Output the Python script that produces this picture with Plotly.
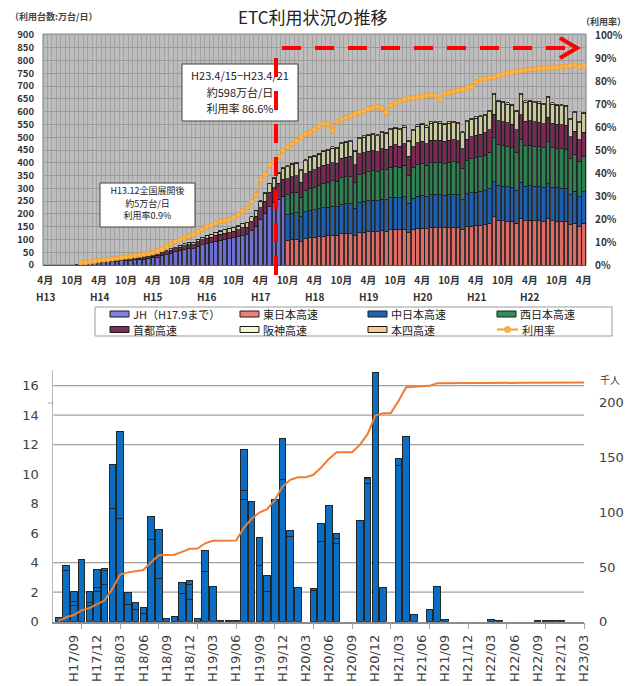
import plotly.graph_objects as go

W, H = 627, 686
JP = "Noto Sans CJK JP"
LAT = "DejaVu Sans"

# ---------------- ETC usage, monthly from H13/4 (index 0) to H23/4 (index 120) ----------------
TOP_MONTH_TEXT = ["4月", "10月"] * 10 + ["4月"]
TOP_YEAR_TEXT = ["H13", "H14", "H15", "H16", "H17", "H18", "H19", "H20", "H21", "H22"]

# 万台/日 ; JH until H17/9 (index 0..53)
JH = [0, 0, 0, 0, 0, 0, 0, 1, 4, 5, 6, 8, 10, 11, 12, 13, 14, 16, 17, 19,
      20, 21, 23, 26, 28, 31, 36, 41, 46, 51, 56, 61, 63, 64, 73, 79, 83, 87, 93, 96,
      99, 102, 106, 110, 117, 118, 135, 152, 179, 200, 227, 243, 257, 270]

# NEXCO companies from H17/10 (index 54..120)
EAST = [97, 99, 100, 92, 103, 106, 108, 110, 113, 114, 117, 116, 122, 123, 124, 114, 127, 129, 131, 132,
        130, 134, 133, 137, 139, 137, 140, 126, 137, 142, 144, 141, 145, 146, 146, 145, 146, 147, 146, 137,
        149, 152, 154, 156, 158, 163, 188, 176, 174, 172, 170, 163, 183, 174, 175, 174, 173, 172, 181, 173,
        172, 171, 171, 157, 164, 150, 164]
CENTRAL = [100, 103, 104, 96, 106, 108, 109, 110, 112, 112, 113, 112, 116, 117, 117, 108, 119, 120, 121, 122,
           121, 123, 123, 126, 127, 126, 128, 115, 124, 128, 129, 127, 130, 130, 129, 128, 129, 129, 128, 119,
           129, 131, 131, 132, 133, 135, 137, 136, 135, 134, 133, 128, 141, 135, 135, 134, 133, 132, 137, 132,
           131, 130, 129, 118, 124, 118, 122]
WEST = [78, 80, 81, 75, 83, 86, 88, 91, 94, 96, 99, 99, 104, 106, 107, 99, 110, 111, 113, 114,
        113, 116, 116, 119, 120, 119, 122, 109, 119, 123, 125, 123, 127, 127, 127, 126, 128, 128, 128, 120,
        130, 133, 135, 137, 138, 143, 172, 158, 157, 156, 155, 149, 166, 158, 159, 157, 157, 155, 164, 156,
        154, 154, 153, 140, 146, 138, 137]

# whole period (index 0..120)
SHUTO = [0, 0, 0, 0, 0, 0, 0, 0, 1, 1, 2, 2, 3, 3, 3, 4, 4, 4, 5, 5,
         5, 5, 6, 6, 7, 8, 9, 10, 12, 13, 14, 15, 16, 16, 18, 19, 21, 22, 23, 24,
         25, 25, 26, 27, 29, 30, 34, 38, 45, 50, 57, 60, 63, 66,
         62, 64, 64, 60, 65, 67, 68, 69, 71, 71, 72, 72, 75, 76, 77, 71, 79, 79, 80, 80,
         79, 81, 80, 83, 84, 83, 84, 76, 82, 85, 86, 84, 86, 86, 86, 85, 85, 86, 85, 79,
         85, 86, 87, 87, 88, 89, 92, 95, 94, 94, 93, 90, 98, 95, 96, 95, 95, 94, 96, 94,
         94, 94, 93, 86, 90, 85, 97]
HANSHIN = [0, 0, 0, 0, 0, 0, 0, 0, 0, 1, 1, 1, 1, 1, 2, 2, 2, 2, 2, 2,
           3, 3, 3, 3, 3, 4, 4, 5, 6, 6, 7, 7, 8, 8, 9, 10, 11, 11, 12, 13,
           13, 14, 14, 15, 16, 17, 19, 22, 26, 30, 34, 37, 40, 42,
           47, 49, 49, 45, 50, 52, 53, 54, 55, 55, 56, 56, 58, 58, 58, 53, 60, 61, 62, 62,
           62, 63, 63, 65, 65, 65, 66, 59, 63, 65, 66, 65, 67, 67, 67, 66, 67, 67, 66, 62,
           67, 68, 68, 68, 68, 70, 77, 75, 75, 74, 74, 71, 78, 75, 75, 75, 75, 74, 77, 75,
           74, 74, 74, 68, 71, 66, 73]
HONSHI = [0] * 30 + [1] * 18 + [2] * 6 + [4] * 8 + [5] * 19 + [4] + [5] * 18 + [6] + [5] * 5 + [6] \
    + [5] * 5 + [6] + [5] * 6 + [4, 5]

# 利用率 (%) from H13/12 (index 8..120)
RATE = [0.9, 1.1, 1.3, 1.6, 2.0, 2.2, 2.4, 2.7, 2.9, 3.2, 3.5, 3.7, 4.0, 4.4, 4.7, 5.0, 5.4, 6.2, 7.0, 8.0,
        9.2, 10.2, 11.0, 11.8, 12.6, 13.3, 14.5, 15.5, 16.4, 17.3, 18.2, 19.0, 19.4, 19.8, 20.6, 21.8, 23.4,
        25.0, 27.6, 30.5, 37.0, 39.5, 43.5, 44.8, 47.0, 49.8, 51.3, 52.6, 54.0, 55.6, 56.8, 57.6, 58.8, 60.2,
        61.5, 61.2, 58.5, 62.3, 63.3, 64.0, 64.8, 65.6, 66.3, 66.8, 67.8, 68.4, 68.8, 68.2, 66.2, 69.3, 70.5,
        71.2, 71.9, 72.5, 72.7, 73.0, 73.3, 73.6, 74.0, 73.5, 71.8, 74.6, 75.0, 75.4, 75.9, 76.4, 77.0, 77.5,
        79.6, 80.6, 81.1, 81.4, 81.5, 82.4, 83.0, 83.4, 83.8, 84.1, 84.4, 84.8, 85.0, 85.2, 85.5, 85.6, 85.6,
        85.8, 86.0, 86.2, 86.4, 86.6, 87.0, 86.2, 86.6]

JH_START, NEXCO_START, RATE_START, N_MONTHS = 0, 54, 8, 121

# name, values, first month index, bar colour, legend swatch colour
TOP_SERIES = [
    ("JH（H17.9まで）", JH, JH_START, "#6E6ED0", "#8080E2"),
    ("東日本高速", EAST, NEXCO_START, "#DC6C65", "#F0807A"),
    ("中日本高速", CENTRAL, NEXCO_START, "#1E5FAF", "#1E63BA"),
    ("西日本高速", WEST, NEXCO_START, "#2F8050", "#34905A"),
    ("首都高速", SHUTO, 0, "#7B2A55", "#7E2C58"),
    ("阪神高速", HANSHIN, 0, "#CBCB9F", "#F6F6C8"),
    ("本四高速", HONSHI, 0, "#F2C68A", "#F8CC8E"),
]
RATE_NAME, RATE_COLOR = "利用率", "#F5A031"

# call-out texts: one entry per line
LATEST_NOTE = ["H23.4/15−H23.4/21", "約598万台/日", "利用率 86.6%"]
START_NOTE = ["H13.12全国展開後", "約5万台/日", "利用率0.9%"]

# ---------------- lower chart: monthly H17/07 (0) .. H23/03 (68) ----------------
BOTTOM_TICK_TEXT = ["H17/09", "H17/12", "H18/03", "H18/06", "H18/09", "H18/12", "H19/03", "H19/06",
                    "H19/09", "H19/12", "H20/03", "H20/06", "H20/09", "H20/12", "H21/03", "H21/06",
                    "H21/09", "H21/12", "H22/03", "H22/06", "H22/09", "H22/12", "H23/03"]
BOTTOM_TICK_POS = list(range(2, 69, 3))

SEG_A = [0.27, 3.5, 1.13, 4.23, 1.1, 2.08, 2.49, 7.69, 6.98, 1.18,
         0.84, 0.57, 5.54, 2.94, 0.23, 0.32, 1.88, 1.52, 0.23, 3.37,
         2.37, 0.05, 0.05, 0.05, 8.25, 8.14, 3.84, 2.08, 8.3, 9.61,
         5.76, 2.33, 0, 2.09, 5.42, 7.86, 5.27, 0, 0, 6.83,
         9.34, 16.9, 2.31, 0, 10.62, 12.54, 0.5, 0, 0.8, 2.42,
         0.16, 0, 0, 0, 0, 0, 0.17, 0.05, 0, 0,
         0, 0, 0.05, 0.05, 0.05, 0.05, 0, 0, 0]
SEG_B = [0, 0.3, 0.23, 0, 0.2, 0.25, 0.95, 2.98, 5.9, 0.81,
         0.43, 0.38, 1.58, 3.28, 0, 0, 0.79, 1.03, 0, 1.45,
         0, 0, 0, 0, 0.63, 0, 1.86, 1.02, 0, 2.78,
         0.39, 0, 0, 0.17, 1.25, 0, 0.38, 0, 0, 0,
         0.38, 0, 0, 0, 0.46, 0, 0, 0, 0, 0,
         0, 0, 0, 0, 0, 0, 0, 0, 0, 0,
         0, 0, 0, 0, 0, 0, 0, 0, 0]
SEG_C = [0, 0, 0.67, 0, 0.73, 1.22, 0.18, 0, 0, 0,
         0, 0, 0, 0, 0, 0, 0, 0.21, 0, 0,
         0, 0, 0, 0, 2.81, 0, 0, 0, 0, 0,
         0, 0, 0, 0, 0, 0, 0.34, 0, 0, 0,
         0.07, 0, 0, 0, 0, 0, 0, 0, 0, 0,
         0, 0, 0, 0, 0, 0, 0, 0, 0, 0,
         0, 0, 0, 0, 0, 0, 0, 0, 0]
CUMULATIVE = [0.27, 4.07, 6.10, 10.33, 12.36, 15.91, 19.53, 30.20, 43.08, 45.07,
              46.34, 47.29, 54.41, 60.63, 60.86, 61.18, 63.85, 66.61, 66.84, 71.66,
              74.03, 74.08, 74.13, 74.18, 85.87, 94.01, 99.71, 102.81, 111.11, 123.50,
              129.65, 131.98, 131.98, 134.24, 140.91, 148.77, 154.76, 154.76, 154.76, 161.59,
              171.38, 188.28, 190.59, 190.59, 201.67, 214.21, 214.71, 214.71, 215.51, 217.93,
              218.09, 218.09, 218.09, 218.09, 218.09, 218.09, 218.26, 218.31, 218.31, 218.31,
              218.31, 218.31, 218.36, 218.41, 218.46, 218.51, 218.51, 218.51, 218.51]
BOTTOM_GRID = [2, 4, 12, 14, 16]
BAR_BLUE, LINE_ORANGE = "#0A6FC2", "#ED7D31"


def pxx(p):
    return p / W


def pxy(p):
    return 1 - p / H


def nz(values):
    return [v if v else None for v in values]


# plot rectangles in pixels
TL, TR, TT, TB = 43, 586, 35, 265
BL, BR, BT, BB = 53.3, 584, 370, 621.7
TOP_YMAX, BOT_YMAX, BOT_Y2MAX = 900, 17.06, 230


def top_x(p):
    return (p - TL) / (TR - TL) * N_MONTHS - 0.5


def top_y(p):
    return (TB - p) / (TB - TT) * TOP_YMAX


fig = go.Figure()

for name, vals, start, color, _ in TOP_SERIES:
    fig.add_trace(go.Bar(
        x=list(range(start, start + len(vals))), y=nz(vals), name=name, width=0.8,
        marker=dict(color=color, line=dict(color="#1a1a1a", width=0.8)),
        xaxis="x", yaxis="y", showlegend=False))

fig.add_trace(go.Scatter(
    x=list(range(RATE_START, RATE_START + len(RATE))), y=RATE, name=RATE_NAME,
    mode="lines+markers", line=dict(color=RATE_COLOR, width=1.5),
    marker=dict(size=5, color="#F8B64C", line=dict(color="#F0961C", width=0.6)),
    xaxis="x", yaxis="y2", showlegend=False))

# call-out texts (drawn as traces so the red guide can sit over them)
for lines, cx, ys, size in [(LATEST_NOTE, 240, [77.5, 94, 110.5], 11),
                            (START_NOTE, 147.5, [192, 204.5, 217], 9)]:
    fig.add_trace(go.Scatter(
        x=[top_x(cx)] * len(lines), y=[top_y(v) for v in ys], mode="text", text=lines,
        textposition="middle center", cliponaxis=False,
        textfont=dict(family=JP, size=size, color="#222222"),
        xaxis="x", yaxis="y", showlegend=False, hoverinfo="skip"))

for seg in (SEG_A, SEG_B, SEG_C):
    fig.add_trace(go.Bar(
        x=list(range(len(seg))), y=nz(seg), width=0.84,
        marker=dict(color=BAR_BLUE, line=dict(color="#262626", width=1)),
        xaxis="x2", yaxis="y3", showlegend=False))

fig.add_trace(go.Scatter(
    x=list(range(len(CUMULATIVE))), y=CUMULATIVE, mode="lines",
    line=dict(color=LINE_ORANGE, width=2), xaxis="x2", yaxis="y4", showlegend=False))

top_font = dict(family=JP, size=10, color="#333333", weight="bold")
bot_font = dict(family=LAT, size=13, color="#404040")

fig.update_layout(
    width=W, height=H, margin=dict(l=0, r=0, t=0, b=0, autoexpand=False),
    paper_bgcolor="white", plot_bgcolor="white",
    barmode="stack", showlegend=False, hovermode=False,
    xaxis=dict(domain=[pxx(TL), pxx(TR)], range=[-0.5, N_MONTHS - 0.5], anchor="y",
               automargin=False,
               tickmode="array", tickvals=list(range(0, N_MONTHS, 6)), ticktext=TOP_MONTH_TEXT,
               ticks="", showgrid=False, zeroline=False,
               minor=dict(tickmode="linear", tick0=0.5, dtick=1, showgrid=True,
                          gridcolor="#A3A3A3", gridwidth=1),
               showline=True, linecolor="#555555", linewidth=1,
               tickfont=top_font, ticklabelstandoff=6),
    yaxis=dict(domain=[pxy(TB), pxy(TT)], range=[0, TOP_YMAX], anchor="x", automargin=False,
               tickmode="array", tickvals=list(range(0, 901, 50)),
               showgrid=True, gridcolor="#9A9A9A", gridwidth=1, zeroline=False,
               ticks="", tickfont=dict(family=JP, size=9.5, color="#333333", weight="bold"),
               ticklabelstandoff=8),
    yaxis2=dict(overlaying="y", side="right", range=[0, 100], anchor="x", automargin=False,
                tickmode="array", tickvals=list(range(0, 101, 10)),
                ticktext=[f"{v}%" for v in range(0, 101, 10)],
                showgrid=False, zeroline=False, ticks="",
                tickfont=top_font, ticklabelstandoff=8),
    xaxis2=dict(domain=[pxx(BL), pxx(BR)], range=[-0.65, 68], anchor="y3", automargin=False,
                tickmode="array", tickvals=BOTTOM_TICK_POS, ticktext=BOTTOM_TICK_TEXT,
                tickangle=-90, ticks="", showgrid=False, zeroline=False,
                minor=dict(tickmode="linear", tick0=3, dtick=5, ticks="outside",
                           ticklen=6, tickcolor="#A6A6A6", showgrid=False),
                showline=True, linecolor="#8C8C8C", linewidth=1.5,
                tickfont=dict(family=LAT, size=13, color="#404040"), ticklabelstandoff=6),
    yaxis3=dict(domain=[pxy(BB), pxy(BT)], range=[0, BOT_YMAX], anchor="x2", automargin=False,
                tickmode="array", tickvals=list(range(0, 17, 2)),
                showgrid=False, zeroline=False, showline=True, linecolor="#B4B4B4",
                ticks="", tickfont=bot_font, ticklabelstandoff=11),
    yaxis4=dict(overlaying="y3", side="right", range=[0, BOT_Y2MAX], anchor="x2", automargin=False,
                tickmode="array", tickvals=[0, 50, 100, 150, 200],
                showgrid=False, zeroline=False, showline=False, ticks="",
                tickfont=bot_font, ticklabelstandoff=14),
)

shapes = []
# grey plotting area of the upper chart
shapes.append(dict(type="rect", xref="x domain", yref="y domain", x0=0, x1=1, y0=0, y1=1.004,
                   fillcolor="#BDBDBD", line=dict(color="#7A7A7A", width=1), layer="below"))
# call-out boxes (axis referenced so they sit above the grid)
for (l, r, t, b) in [(182, 298, 64, 121), (100, 195, 183, 227)]:
    shapes.append(dict(type="rect", xref="x", yref="y", x0=top_x(l), x1=top_x(r),
                       y0=top_y(b), y1=top_y(t), fillcolor="white",
                       line=dict(color="#404040", width=1), layer="between"))
# red guide: privatisation line and arrow
red = dict(color="#FF0000", width=4, dash="19px,14px")
shapes.append(dict(type="line", xref="paper", yref="paper", x0=pxx(276), x1=pxx(276),
                   y0=pxy(58), y1=pxy(278), line=red, layer="above"))
shapes.append(dict(type="line", xref="paper", yref="paper", x0=pxx(282), x1=pxx(574),
                   y0=pxy(48), y1=pxy(48), line=red, layer="above"))
shapes.append(dict(type="path", xref="paper", yref="paper",
                   path=f"M {pxx(560)},{pxy(38)} L {pxx(577)},{pxy(48)} L {pxx(560)},{pxy(58)}",
                   line=dict(color="#FF0000", width=4), layer="above"))
# horizontal reference lines of the lower chart
for g in BOTTOM_GRID:
    shapes.append(dict(type="line", xref="x2 domain", yref="y3", x0=0, x1=1, y0=g, y1=g,
                       line=dict(color="#A0A0A0", width=1.3), layer="below"))
shapes.append(dict(type="line", xref="paper", yref="paper", x0=pxx(48), x1=pxx(BL),
                   y0=pxy(403), y1=pxy(403), line=dict(color="#A0A0A0", width=1)))

# legend of the upper chart
shapes.append(dict(type="rect", xref="paper", yref="paper", x0=pxx(95), x1=pxx(612),
                   y0=pxy(336), y1=pxy(307), fillcolor="white",
                   line=dict(color="#9A9A9A", width=1)))
LEG_COLS = [110, 240, 368, 497]
LEG_ROWS = [314, 329.5]
legend_items = [(s[0], s[4]) for s in TOP_SERIES] + [(RATE_NAME, RATE_COLOR)]
annotations = []
for k, (name, color) in enumerate(legend_items):
    cx, cy = LEG_COLS[k % 4], LEG_ROWS[k // 4]
    if name == RATE_NAME:
        shapes.append(dict(type="line", xref="paper", yref="paper", x0=pxx(cx), x1=pxx(cx + 21),
                           y0=pxy(cy), y1=pxy(cy), line=dict(color=color, width=2)))
        shapes.append(dict(type="circle", xref="paper", yref="paper",
                           x0=pxx(cx + 7.5), x1=pxx(cx + 13.5), y0=pxy(cy + 3), y1=pxy(cy - 3),
                           fillcolor="#F8B64C", line=dict(color="#F0961C", width=0.8)))
        tx = cx + 23
    else:
        shapes.append(dict(type="rect", xref="paper", yref="paper", x0=pxx(cx), x1=pxx(cx + 19),
                           y0=pxy(cy + 3), y1=pxy(cy - 3), fillcolor=color,
                           line=dict(color="#1c1c1c", width=1)))
        tx = cx + 21
    annotations.append(dict(x=pxx(tx), y=pxy(cy), xref="paper", yref="paper", text=name,
                            showarrow=False, xanchor="left", yanchor="middle",
                            font=dict(family=JP, size=11, color="#222222")))

# fiscal-year row under the April labels
for k, yr in enumerate(TOP_YEAR_TEXT):
    annotations.append(dict(x=12 * k, y=pxy(296), xref="x", yref="paper", text=yr,
                            showarrow=False, xanchor="center", yanchor="middle", font=top_font))

extra = [
    dict(x=pxx(313), y=pxy(16), text="ETC利用状況の推移", font=dict(family=JP, size=17, color="#222222")),
    dict(x=pxx(8), y=pxy(17), text="（利用台数:万台/日）", xanchor="left",
         font=dict(family=JP, size=9, color="#444444", weight="bold")),
    dict(x=pxx(579), y=pxy(21), text="（利用率）", xanchor="left",
         font=dict(family=JP, size=9, color="#444444", weight="bold")),
    dict(x=pxx(598), y=pxy(379), text="千人", xanchor="left",
         font=dict(family=JP, size=10, color="#404040")),
]
for a in extra:
    a.update(xref="paper", yref="paper", showarrow=False, yanchor="middle")
annotations += extra

fig.update_layout(shapes=shapes, annotations=annotations)
fig.write_html("out.html")
